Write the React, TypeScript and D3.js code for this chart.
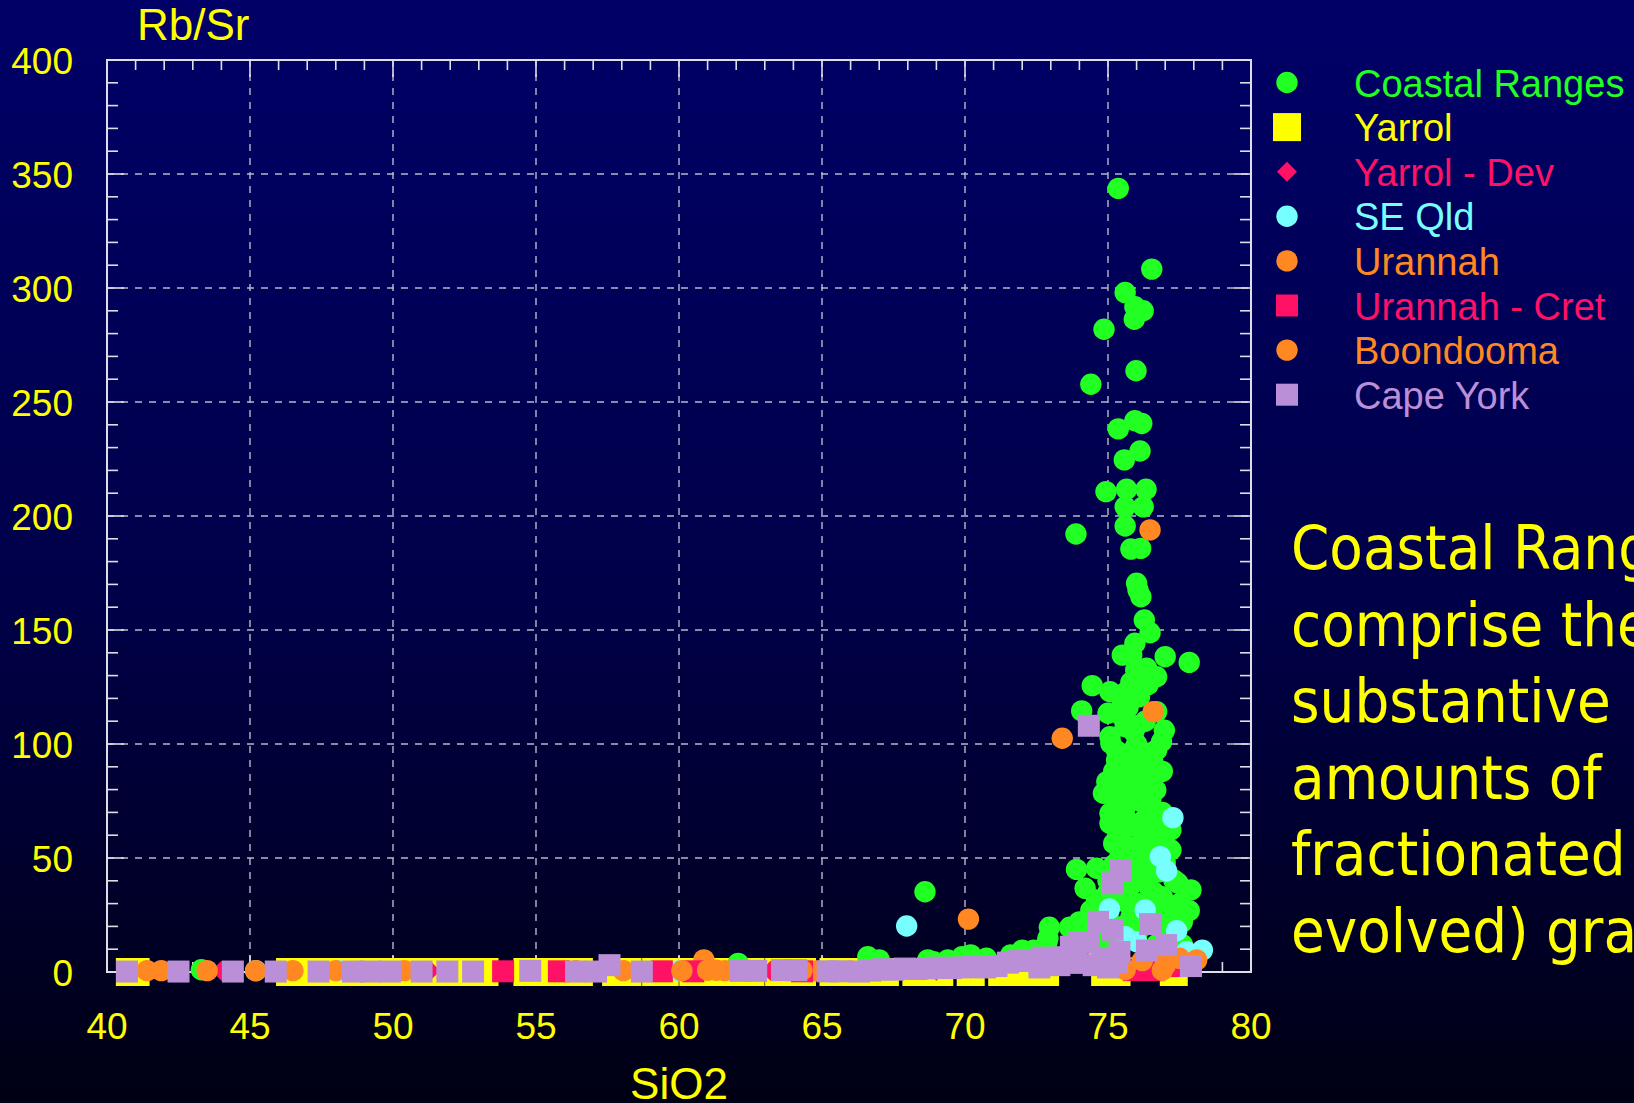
import React from "react";
import * as d3 from "d3";

// ---------- data ----------
const xTickValues = [40, 45, 50, 55, 60, 65, 70, 75, 80];
const yTickValues = [0, 50, 100, 150, 200, 250, 300, 350, 400];
const xTitle = "SiO2";
const yTitle = "Rb/Sr";

const seriesNames = [
  "Coastal Ranges",
  "Yarrol",
  "Yarrol - Dev",
  "SE Qld",
  "Urannah",
  "Urannah - Cret",
  "Boondooma",
  "Cape York",
];

const coastalRanges: [number, number][] = [
  [75.36, 343.7], [76.53, 308.3], [75.6, 298], [75.94, 291.8], [76.23, 290], [75.92, 286.3],
  [74.86, 281.9], [75.98, 263.7], [74.4, 257.8], [75.94, 241.8], [76.18, 240.6], [75.36, 238.2],
  [76.12, 228.5], [75.57, 224.6], [74.93, 210.7], [75.65, 211.7], [76.33, 211.7], [75.6, 204],
  [76.23, 204], [75.6, 195.6], [73.88, 192.1], [75.8, 185.5], [76.14, 185.8], [76.0, 170.5],
  [76.05, 167.5], [76.15, 164.6], [76.27, 154.4], [76.47, 148.8], [75.94, 144.2], [75.5, 139],
  [75.83, 139], [77.0, 138.3], [77.84, 135.8], [76.35, 133.2], [75.97, 132.5], [76.7, 129.5],
  [74.45, 125.6], [75.07, 122.9], [75.6, 122.5], [76.1, 120.7], [75.5, 117.1], [74.08, 114.5],
  [75.0, 113.5], [76.7, 114.2], [75.6, 107.6], [75.9, 105.4], [75.07, 103.2], [76.87, 101],
  [75.1, 100.3], [75.9, 97.4], [76.7, 97.4], [75.83, 95.2], [76.58, 91.5], [75.9, 91.5],
  [76.35, 90], [75.37, 87.1], [75.0, 82.7], [74.96, 83.5], [74.84, 78.4], [76.67, 79.8],
  [76.2, 84], [75.6, 80], [75.07, 69.6], [75.07, 65.2], [75.6, 72], [76.1, 75], [76.4, 70],
  [75.8, 64], [76.3, 62], [77.2, 62.3], [77.2, 53.5], [75.2, 56.4], [75.7, 55], [76.2, 57],
  [76.6, 52], [75.4, 50], [76.0, 48], [76.5, 45], [75.6, 44], [73.9, 45], [74.6, 45.5],
  [74.2, 36.7], [75.0, 40], [75.8, 38], [76.4, 38], [77.3, 40.4], [77.45, 38.9], [77.9, 36],
  [77.84, 26.9], [77.5, 30], [76.9, 33], [75.4, 32], [76.1, 30], [74.6, 31.6], [75.0, 25],
  [75.8, 24], [76.6, 24], [74.3, 20.6], [72.95, 19.6], [73.66, 19.6], [72.9, 14.8], [72.86, 12.6],
  [72.4, 9.6], [72.0, 9.6], [71.6, 7.5], [70.75, 6], [70.2, 7.5], [69.9, 6.7], [69.4, 5.3],
  [68.7, 5.3], [68.9, 4.5], [67.0, 5.3], [66.6, 6.7], [68.6, 35.2], [62.07, 3.8], [43.3, 1],
  [76.9, 20], [77.3, 15], [74.8, 15], [76.0, 16], [77.6, 22], [76.8, 60], [75.4, 60],
  [76.0, 100], [76.3, 110], [75.3, 93], [76.9, 88], [76.97, 106],
  [75.3, 75], [75.9, 78], [76.5, 76], [75.5, 86], [76.1, 88], [75.3, 97], [76.4, 96],
  [76.0, 108], [75.5, 112], [76.4, 126], [75.8, 127], [75.6, 68], [76.2, 66], [76.7, 65],
  [75.5, 62], [76.0, 55], [76.8, 55], [75.9, 52], [75.2, 47], [76.2, 42], [76.8, 44],
  [77.0, 48], [75.4, 40], [76.6, 35], [75.0, 35], [75.7, 30], [76.4, 28], [77.1, 27],
  [74.9, 20], [75.5, 20], [76.2, 20], [77.1, 22], [74.4, 27], [75.3, 13], [76.7, 12],
  [77.6, 12], [74.0, 22], [75.8, 84], [76.5, 84], [75.7, 116], [76.9, 70], [75.2, 88],
];

const yarrol: [number, number][] = [
  [40.8, 0], [41.0, 0], [46.4, 0], [47.3, 0], [48.2, 0], [49.1, 0], [50.0, 0], [50.9, 0],
  [51.8, 0], [52.7, 0], [53.2, 0], [54.7, 0], [55.6, 0], [56.5, 0], [57.8, 0], [58.2, 0],
  [59.2, 0], [59.5, 0], [60.5, 0], [61.3, 0], [62.2, 0], [62.5, 0], [63.5, 0], [64.3, 0],
  [65.4, 0], [66.3, 0], [67.2, 0], [68.3, 0], [69.1, 0], [70.2, 0], [71.3, 0], [72.1, 0],
  [72.8, 0], [74.9, 0], [75.3, 0], [74.8, 10], [77.3, 0],
];

const yarrolDev: [number, number][] = [
  [44.0, 0.5], [51.3, 0.5], [58.0, 0.5], [63.2, 0.5], [69.0, 0.5], [75.8, 0.5],
];

const seQld: [number, number][] = [
  [67.96, 20.2], [77.27, 67.7], [76.83, 50.6], [77.05, 44.3], [75.05, 27.6], [76.3, 27.2],
  [77.4, 18.1], [78.3, 9.6], [76.0, 13.3], [75.6, 15.5], [77.75, 8.9], [45.2, 0.6],
  [48.1, 0.6], [60.0, 0.6], [77.0, 5],
];

const urannah: [number, number][] = [
  [70.12, 23.2], [73.4, 102.5], [76.58, 114.2], [41.4, 0.6], [43.5, 0.6], [46.5, 0.6],
  [50.4, 0.6], [58.06, 0.6], [60.87, 5.3], [61.3, 0.8], [64.8, 0.5], [66.0, 0.5],
  [75.9, 2], [76.6, 4],
];

const urannahCret: [number, number][] = [
  [53.85, 0.3], [55.8, 0.3], [59.4, 0.3], [64.3, 0.3], [60.5, 0.3], [75.9, 0.8],
  [76.6, 0.8], [77.27, 2.6],
];

const boondooma: [number, number][] = [
  [76.47, 193.9], [41.9, 0.6], [45.2, 0.6], [48.0, 0.6], [56.4, 0.6], [60.1, 0.6],
  [61.0, 0.8], [61.6, 0.6], [64.3, 0.8], [75.6, 1], [76.2, 5], [77.0, 3], [77.5, 6],
  [78.1, 5.3], [76.9, 0.8],
];

const capeYork: [number, number][] = [
  [40.7, 0.2], [42.5, 0.2], [44.4, 0.2], [45.9, 0.2], [47.4, 0.2], [48.6, 0.2], [49.2, 0.2],
  [49.9, 0.2], [51.0, 0.2], [51.9, 0.2], [52.8, 0.2], [54.8, 0.5], [56.4, 0.2], [57.1, 0.2],
  [57.57, 3], [58.7, 0.2], [62.15, 0.5], [62.7, 0.5], [63.6, 0.8], [64.1, 0.8], [65.2, 0.3],
  [65.6, 0.3], [66.3, 0.2], [66.7, 0.6], [67.1, 1.2], [67.5, 1.0], [67.9, 1.5], [68.3, 1.3],
  [68.7, 1.6], [69.1, 1.9], [69.5, 1.7], [69.9, 2.0], [70.3, 2.2], [70.7, 2.0], [71.1, 2.6],
  [71.5, 4.1], [71.9, 4.8], [72.3, 5.0], [72.7, 6.3], [73.1, 6.0], [73.5, 6.5], [73.7, 11.1],
  [74.0, 12.9], [74.3, 13], [74.65, 22], [75.16, 18.5], [75.45, 44.3], [75.16, 38.9],
  [75.4, 8.8], [76.47, 21], [76.36, 9.4], [77.03, 11.8], [77.9, 2.6], [74.33, 108],
  [72.6, 2], [73.3, 3], [73.9, 4], [74.5, 3], [75.0, 2], [75.3, 4], [74.8, 6],
];

const annotationLines = [
  "Coastal Ranges",
  "comprise the",
  "substantive",
  "amounts of",
  "fractionated (or",
  "evolved) granites",
];

// ---------- styling ----------
const W = 1634;
const H = 1103;
const M = { left: 107, right: 1251, top: 60, bottom: 972 };

const GREEN = "#22ff22";
const YELLOW = "#ffff00";
const PINK = "#ff1166";
const CYAN = "#77ffff";
const ORANGE = "#ff8822";
const LAVENDER = "#bb8fd7";

type Shape = "circle" | "bigsquare" | "square" | "diamond";

const seriesDefs: { name: string; data: [number, number][]; color: string; shape: Shape }[] = [
  { name: seriesNames[0], data: coastalRanges, color: GREEN, shape: "circle" },
  { name: seriesNames[1], data: yarrol, color: YELLOW, shape: "bigsquare" },
  { name: seriesNames[2], data: yarrolDev, color: PINK, shape: "diamond" },
  { name: seriesNames[3], data: seQld, color: CYAN, shape: "circle" },
  { name: seriesNames[4], data: urannah, color: ORANGE, shape: "circle" },
  { name: seriesNames[5], data: urannahCret, color: PINK, shape: "square" },
  { name: seriesNames[6], data: boondooma, color: ORANGE, shape: "circle" },
  { name: seriesNames[7], data: capeYork, color: LAVENDER, shape: "square" },
];

// drawing order: Yarrol at the bottom, then the rest in legend order
const drawOrder = [1, 0, 2, 3, 4, 5, 6, 7];

function Marker({ shape, cx, cy, color }: { shape: Shape; cx: number; cy: number; color: string }) {
  if (shape === "circle") return <circle cx={cx} cy={cy} r={10.7} fill={color} />;
  if (shape === "bigsquare") return <rect x={cx - 14} y={cy - 14} width={28} height={28} fill={color} />;
  if (shape === "square") return <rect x={cx - 11} y={cy - 11} width={22} height={22} fill={color} />;
  return (
    <path d={`M${cx},${cy - 10} L${cx + 10},${cy} L${cx},${cy + 10} L${cx - 10},${cy} Z`} fill={color} />
  );
}

export default function App() {
  const x = d3.scaleLinear().domain([40, 80]).range([M.left, M.right]);
  const y = d3.scaleLinear().domain([0, 400]).range([M.bottom, M.top]);

  const xMinor = d3.range(40, 81, 1);
  const yMinor = d3.range(0, 401, 10);
  const axisColor = "#dedee6";
  const gridColor = "#b8b8cc";
  const sansFont = "'Liberation Sans', Arial, sans-serif";

  const legendY0 = 82.5;
  const legendDy = 44.6;

  return (
    <div style={{ position: "fixed", left: 0, top: 0, width: W, height: H, overflow: "hidden" }}>
      <svg width={W} height={H} viewBox={`0 0 ${W} ${H}`} style={{ display: "block" }}>
        <defs>
          <linearGradient id="bg" x1="0" y1="0" x2="0" y2="1">
            <stop offset="0%" stopColor="#000068" />
            <stop offset="55%" stopColor="#000048" />
            <stop offset="100%" stopColor="#000014" />
          </linearGradient>
        </defs>
        <rect x={0} y={0} width={W} height={H} fill="url(#bg)" />

        {/* grid */}
        {xTickValues.filter((v) => v > 40 && v < 80).map((v) => (
          <line key={"gx" + v} x1={x(v)} x2={x(v)} y1={M.top} y2={M.bottom}
            stroke={gridColor} strokeWidth={1.4} strokeDasharray="7,7" />
        ))}
        {yTickValues.filter((v) => v > 0 && v < 400).map((v) => (
          <line key={"gy" + v} x1={M.left} x2={M.right} y1={y(v)} y2={y(v)}
            stroke={gridColor} strokeWidth={1.4} strokeDasharray="7,7" />
        ))}

        {/* ticks, inward on all sides */}
        {xMinor.map((v) => {
          const len = v % 5 === 0 ? 17 : 10;
          return (
            <g key={"tx" + v}>
              <line x1={x(v)} x2={x(v)} y1={M.top} y2={M.top + len} stroke={axisColor} strokeWidth={1.6} />
              <line x1={x(v)} x2={x(v)} y1={M.bottom} y2={M.bottom - len} stroke={axisColor} strokeWidth={1.6} />
            </g>
          );
        })}
        {yMinor.map((v) => {
          const len = v % 50 === 0 ? 17 : 11;
          return (
            <g key={"ty" + v}>
              <line x1={M.left} x2={M.left + len} y1={y(v)} y2={y(v)} stroke={axisColor} strokeWidth={1.6} />
              <line x1={M.right} x2={M.right - len} y1={y(v)} y2={y(v)} stroke={axisColor} strokeWidth={1.6} />
            </g>
          );
        })}

        {/* frame */}
        <rect x={M.left} y={M.top} width={M.right - M.left} height={M.bottom - M.top}
          fill="none" stroke={axisColor} strokeWidth={2} />

        {/* data */}
        <g>
          {drawOrder.map((si) => {
            const s = seriesDefs[si];
            return (
              <g key={s.name}>
                {s.data.map((d, i) => (
                  <Marker key={i} shape={s.shape} cx={x(d[0])} cy={y(d[1])} color={s.color} />
                ))}
              </g>
            );
          })}
        </g>

        {/* tick labels */}
        {yTickValues.map((v) => (
          <text key={"ly" + v} x={73} y={y(v) + 13.5} textAnchor="end" fill={YELLOW}
            fontFamily={sansFont} fontSize={37}>{v}</text>
        ))}
        {xTickValues.map((v) => (
          <text key={"lx" + v} x={x(v)} y={1039} textAnchor="middle" fill={YELLOW}
            fontFamily={sansFont} fontSize={37}>{v}</text>
        ))}

        {/* axis titles */}
        <text x={137} y={40} fill={YELLOW} fontFamily={sansFont} fontSize={44}>{yTitle}</text>
        <text x={(M.left + M.right) / 2} y={1099} textAnchor="middle" fill={YELLOW}
          fontFamily={sansFont} fontSize={44}>{xTitle}</text>

        {/* legend */}
        {seriesDefs.map((s, i) => {
          const cy = legendY0 + i * legendDy;
          return (
            <g key={"lg" + s.name}>
              <Marker shape={s.shape} cx={1287} cy={cy} color={s.color} />
              <text x={1354} y={cy + 14} fill={s.color} fontFamily={sansFont} fontSize={38}>{s.name}</text>
            </g>
          );
        })}

        {/* annotation (clipped by the right edge, as in the original slide) */}
        {annotationLines.map((t, i) => (
          <text key={"an" + i} x={1291} y={569 + i * 76.6} fill={YELLOW}
            fontFamily="'DejaVu Sans Condensed', 'DejaVu Sans', sans-serif"
            style={{ fontStretch: "condensed" }} fontSize={61}>{t}</text>
        ))}
      </svg>
    </div>
  );
}
